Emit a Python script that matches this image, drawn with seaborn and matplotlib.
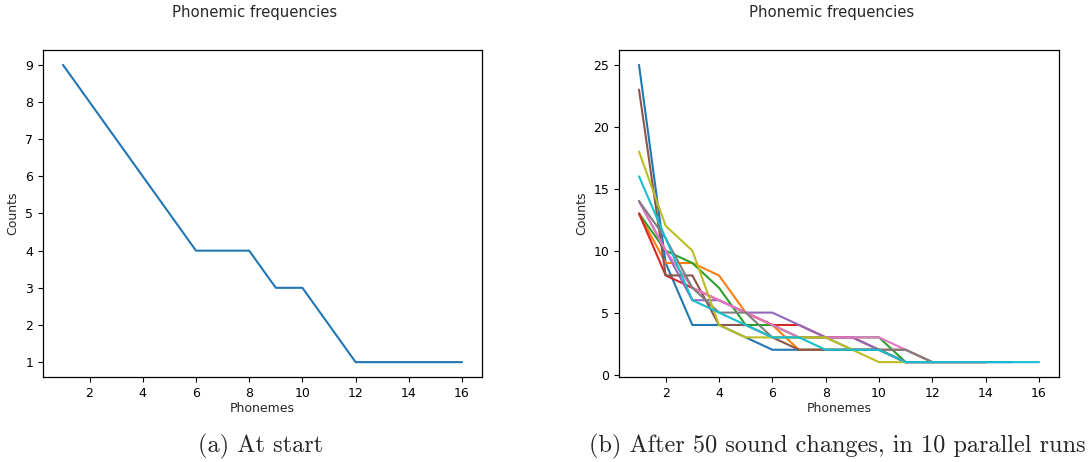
import matplotlib
matplotlib.use("Agg")
import matplotlib.pyplot as plt
import seaborn as sns
import pandas as pd

# ---- data ----
start_counts = [9, 8, 7, 6, 5, 4, 4, 4, 3, 3, 2, 1, 1, 1, 1, 1]

run_0 = [25, 9, 4, 4, 3, 2, 2, 2, 2, 2, 1, 1, 1, 1, 1]
run_1 = [13, 9, 9, 8, 5, 4, 2, 2, 2, 2, 1, 1, 1, 1]
run_2 = [13, 10, 9, 7, 4, 4, 3, 3, 3, 3, 1]
run_3 = [13, 8, 7, 6, 5, 4, 4, 3, 3, 2, 2, 1, 1, 1]
run_4 = [14, 10, 6, 6, 5, 5, 4, 3, 3, 2, 1, 1]
run_5 = [23, 8, 8, 4, 4, 3, 2, 2, 2, 2, 1, 1]
run_6 = [14, 10, 7, 6, 5, 4, 3, 3, 3, 3, 2]
run_7 = [14, 11, 7, 5, 5, 3, 3, 3, 2, 2, 2, 1, 1, 1]
run_8 = [18, 12, 10, 4, 3, 3, 3, 3, 2, 1, 1]
run_9 = [16, 11, 6, 5, 4, 3, 3, 2, 2, 2, 1, 1, 1, 1, 1, 1]
runs = [run_0, run_1, run_2, run_3, run_4, run_5, run_6, run_7, run_8, run_9]

title_text = "Phonemic frequencies"
x_label = "Phonemes"
y_label = "Counts"
caption_a = "(a) At start"
caption_b = "(b) After 50 sound changes, in 10 parallel runs"

# ---- build tables ----
df_start = pd.DataFrame({"Phonemes": range(1, len(start_counts) + 1),
                         "Counts": start_counts})
rows = []
for r, vals in enumerate(runs):
    for i, v in enumerate(vals):
        rows.append({"run": r, "Phonemes": i + 1, "Counts": v})
df_runs = pd.DataFrame(rows)

sns.set_style("ticks")
plt.rcParams["font.family"] = ["DejaVu Sans"]

fig = plt.figure(figsize=(10.91, 4.62), dpi=100)
W, H = 1091, 462
axA = fig.add_axes([43 / W, 1 - 377 / H, 439 / W, 327 / H])
axB = fig.add_axes([619 / W, 1 - 377 / H, 440 / W, 327 / H])

palette = sns.color_palette("tab10", 10)

sns.lineplot(data=df_start, x="Phonemes", y="Counts", ax=axA,
             color=palette[0], linewidth=1.5)
for r in range(len(runs)):
    sub = df_runs[df_runs["run"] == r]
    sns.lineplot(data=sub, x="Phonemes", y="Counts", ax=axB,
                 color=palette[r], linewidth=1.5)

axA.set_xticks([2, 4, 6, 8, 10, 12, 14, 16])
axA.set_yticks(range(1, 10))
axB.set_xticks([2, 4, 6, 8, 10, 12, 14, 16])
axB.set_yticks([0, 5, 10, 15, 20, 25])

for ax in (axA, axB):
    for s in ax.spines.values():
        s.set_visible(True)
        s.set_linewidth(0.9)
        s.set_color("black")
    ax.tick_params(labelsize=9, length=3.5, width=0.8, colors="black")
    ax.set_xlabel(x_label, fontsize=9, labelpad=2)
    ax.set_ylabel(y_label, fontsize=9, labelpad=4)
    ax.set_facecolor("white")

fig.text(255 / W, 1 - 13 / H, title_text, ha="center", va="center", fontsize=10.7)
fig.text(832 / W, 1 - 13 / H, title_text, ha="center", va="center", fontsize=10.7)

serif = ["cmr10", "DejaVu Serif"]
fig.text(261 / W, 1 - 446 / H, caption_a, ha="center", va="center",
         fontsize=17.5, family=serif)
fig.text(837 / W, 1 - 446 / H, caption_b, ha="center", va="center",
         fontsize=17.5, family=serif)

fig.savefig("out.png", dpi=100, facecolor="white")
